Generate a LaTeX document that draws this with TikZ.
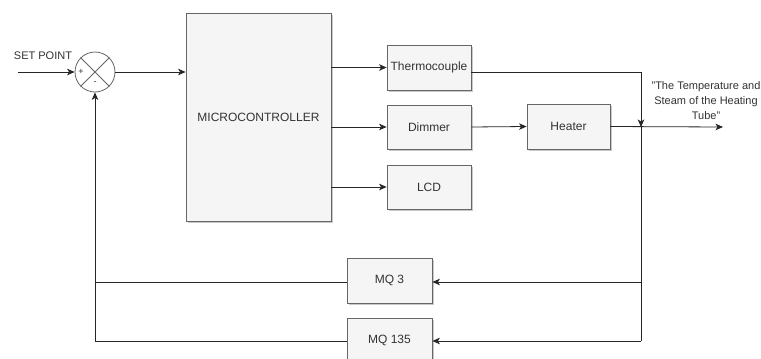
\documentclass[tikz,border=0pt]{standalone}
\usepackage{fontspec}
\setmainfont{Liberation Sans}
\usetikzlibrary{arrows.meta,shadows}
\definecolor{boxfill}{HTML}{F5F5F5}
\definecolor{boxline}{HTML}{666666}
\definecolor{txt}{HTML}{333333}
\begin{document}
\begin{tikzpicture}[x=1pt,y=-1pt,
  blk/.style={draw=boxline,fill=boxfill,line width=0.8pt,text=txt,font=\fontsize{12}{14}\selectfont,
    inner sep=0pt,drop shadow={shadow xshift=1.5pt,shadow yshift=-2pt,fill=black!35,opacity=0.6}},
  conn/.style={draw=black!85,line width=0.8pt},
  arr/.style={conn,-{Stealth[length=7.5pt,width=6.5pt,inset=2pt]}},
  lbl/.style={text=txt,inner sep=0pt}]
\useasboundingbox (0,0) rectangle (761,359);
\fill[white] (0,0) rectangle (761,359);

% summing junction
\node[draw=boxline,line width=0.8pt,circle,minimum size=40pt,inner sep=0pt] (sum) at (95,72) {};
\draw[boxline,line width=0.8pt] (sum.north west) -- (sum.south east) (sum.north east) -- (sum.south west);
\node[lbl,font=\fontsize{9}{9}\selectfont] (plus) at (81,72) {+};
\node[lbl,font=\fontsize{9}{9}\selectfont] (minus) at (95,83.5) {-};

\node[lbl,font=\fontsize{11}{13}\selectfont] (sp) at (43,56) {SET POINT};
\coordinate (spin) at (18,72);

% blocks
\node[blk,minimum width=145pt,minimum height=208pt] (mc) at (258.5,117) {MICROCONTROLLER};
\node[blk,minimum width=84pt,minimum height=45pt] (thermo) at (429,67.5) {Thermocouple};
\node[blk,minimum width=84pt,minimum height=44pt] (dim) at (429,127) {Dimmer};
\node[blk,minimum width=84pt,minimum height=44pt] (lcd) at (429,187) {LCD};
\node[blk,minimum width=83pt,minimum height=45pt] (heat) at (568.5,126.5) {Heater};
\node[blk,minimum width=85pt,minimum height=45pt] (mq3) at (389.5,280.5) {MQ 3};
\node[blk,minimum width=85pt,minimum height=45pt] (mq135) at (389.5,340.5) {MQ 135};

% output label
\node[lbl,align=center,font=\fontsize{11}{15}\selectfont] (out) at (706,101) {"The Temperature and\\Steam of the Heating\\Tube"};

% coordinates
\coordinate (tj) at (641,72);
\coordinate (hj) at (641,127);
\coordinate (oend) at (723,127);
\coordinate (b3) at (641,282);
\coordinate (b135) at (641,341);
\coordinate (f3) at (95,282);
\coordinate (f135) at (95,341);

% connectors
\draw[arr] (spin) -- (sum.west);
\draw[arr] (sum.east) -- (mc.west |- sum.east);
\draw[arr] (mc.east |- thermo.west) -- (thermo.west);
\draw[arr] (mc.east |- dim.west) -- (dim.west);
\draw[arr] (mc.east |- lcd.west) -- (lcd.west);
\draw[arr] (dim.east) -- (heat.west);
\draw[arr] (heat.east) -- (oend);
\draw[arr] ([yshift=-4.5pt]thermo.east) -- (tj) -- (hj);
\draw[conn] (hj) -- (b135);
\draw[arr] (b3) -- (mq3.east |- b3);
\draw[arr] (b135) -- (mq135.east |- b135);
\draw[conn] (mq3.west |- f3) -- (f3);
\draw[arr] (mq135.west |- f135) -- (f135) -- (sum.south);
\end{tikzpicture}
\end{document}
